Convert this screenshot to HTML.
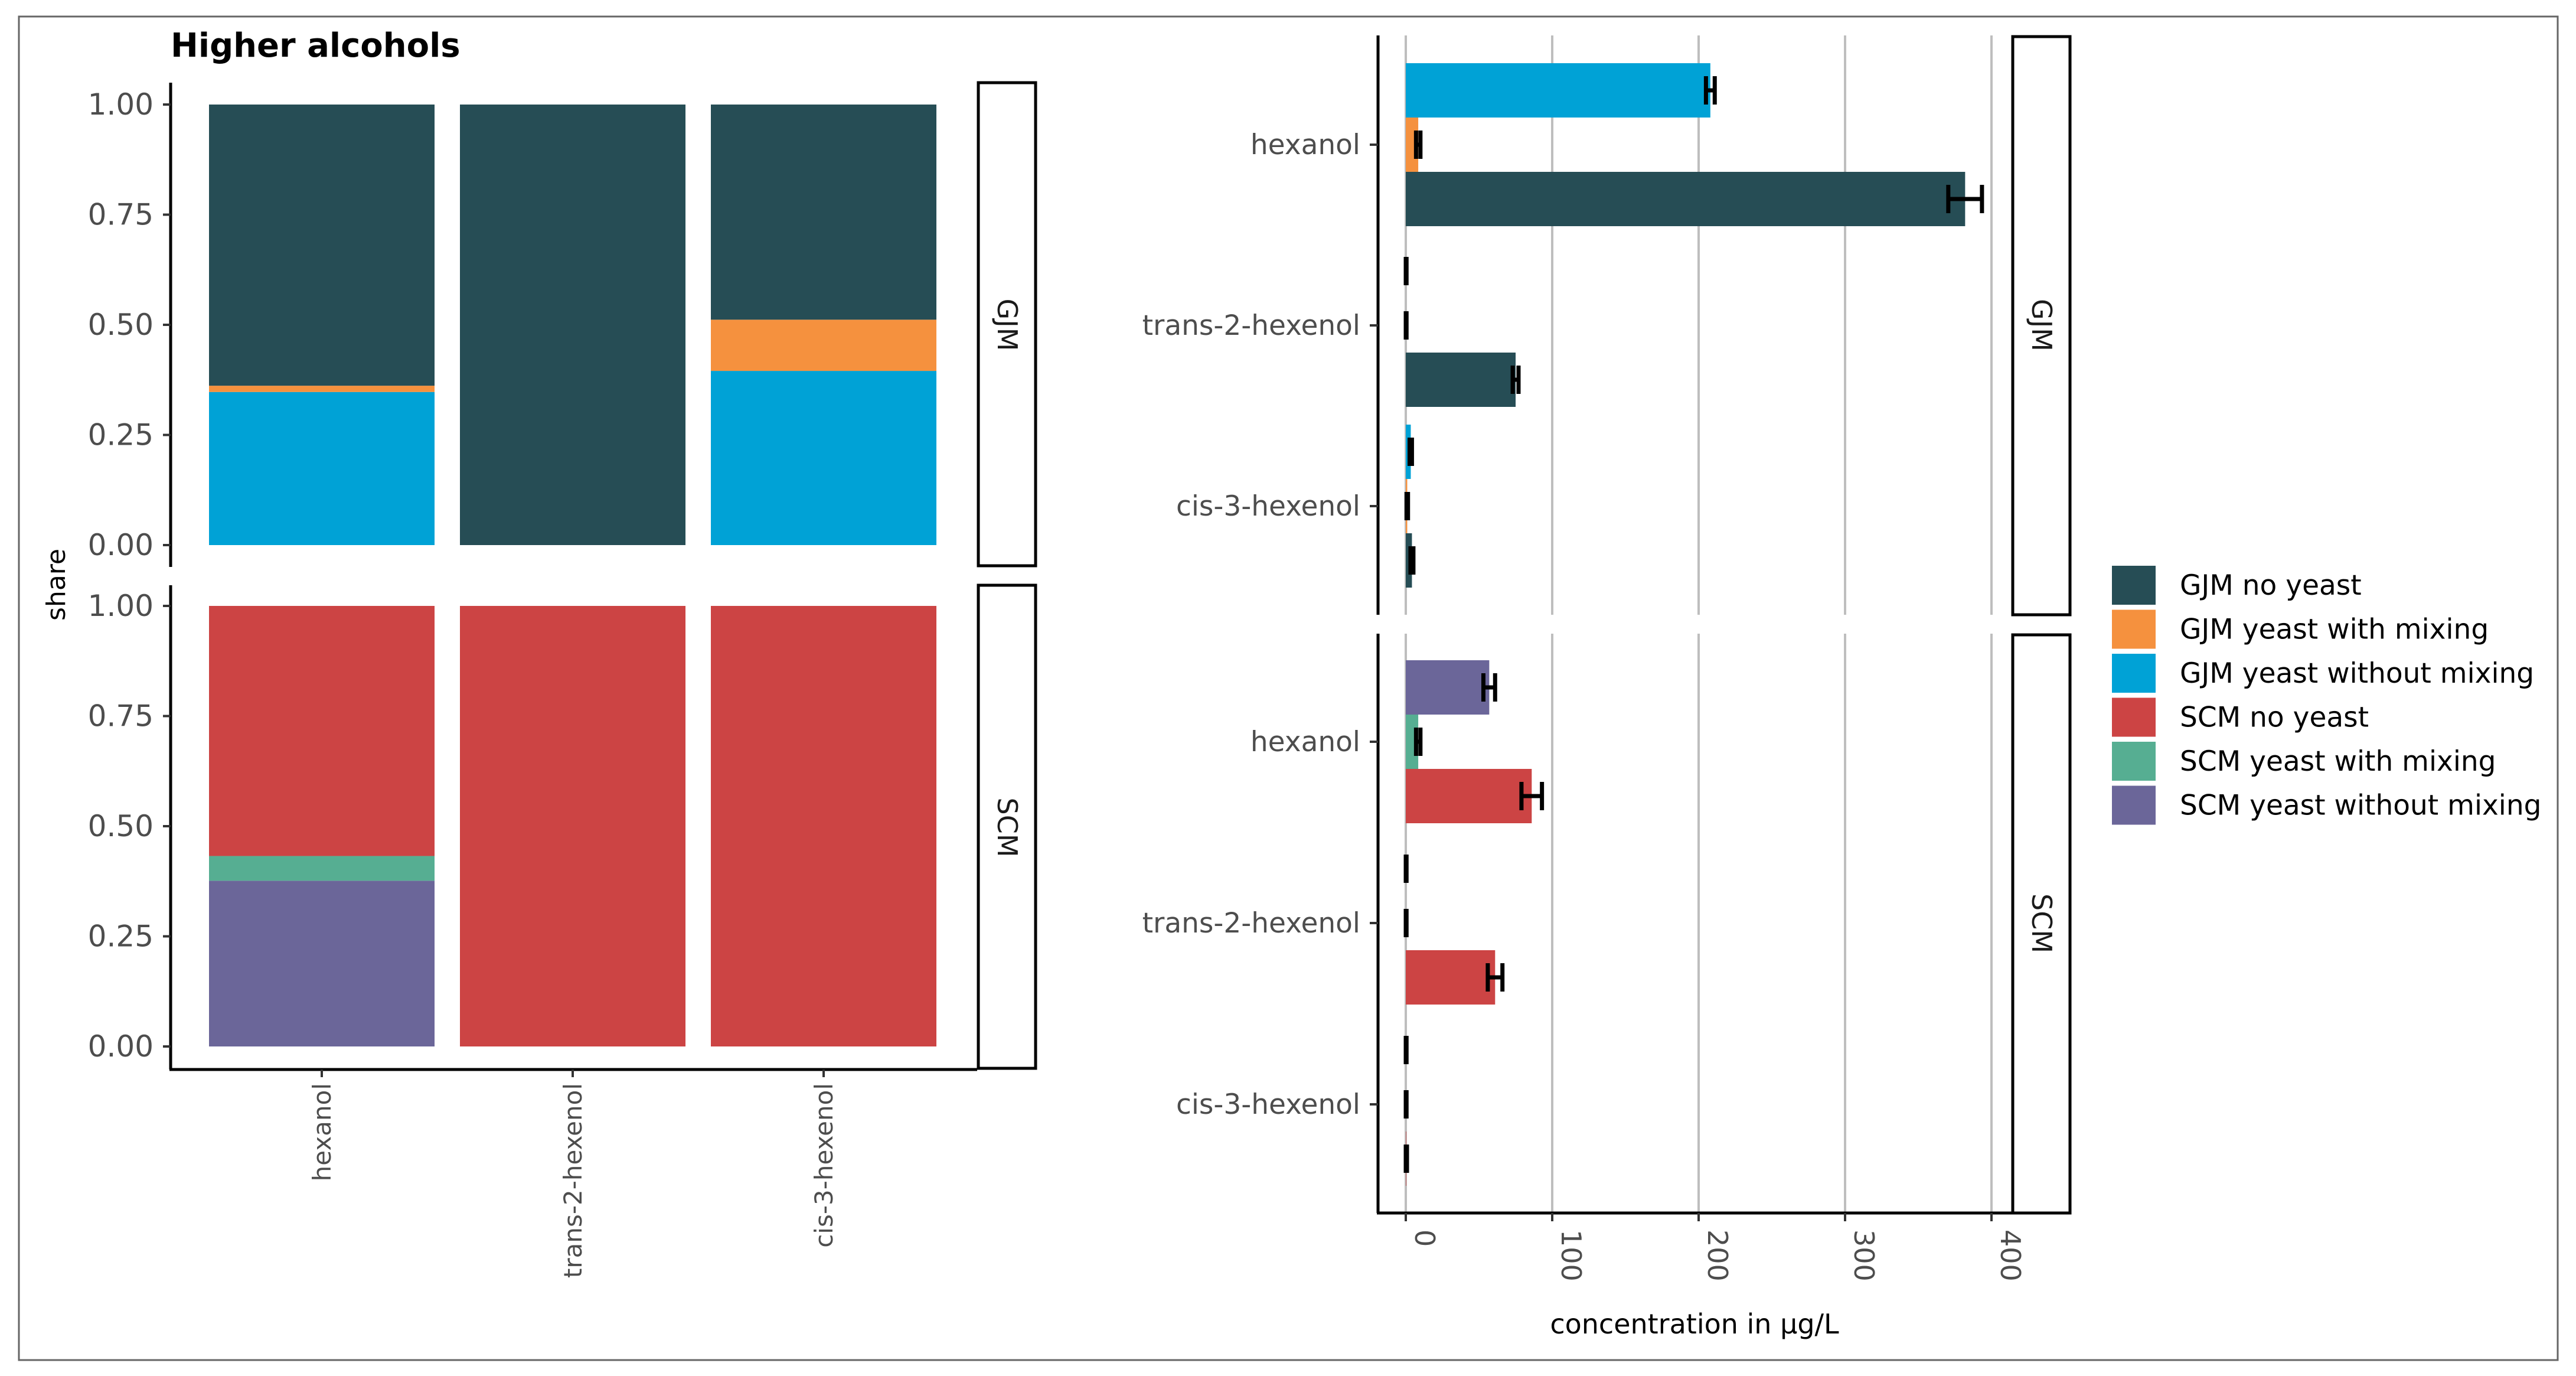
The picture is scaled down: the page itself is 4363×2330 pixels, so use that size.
<!DOCTYPE html>
<html><head><meta charset="utf-8"><style>
html,body{margin:0;padding:0;background:#fff}
svg{display:block}
text{font-family:"DejaVu Sans","Liberation Sans",sans-serif}
</style></head><body>
<svg id="chart" xmlns="http://www.w3.org/2000/svg" width="4363" height="2330" viewBox="0 0 4363 2330">
<rect x="0" y="0" width="4363" height="2330" fill="#fff"/>
<rect x="32" y="28" width="4300" height="2275" fill="none" stroke="#666" stroke-width="3"/>
<text x="289" y="96" font-size="56" font-weight="bold" fill="#000">Higher alcohols</text>
<text transform="translate(110,990) rotate(-90)" text-anchor="middle" font-size="44" fill="#000">share</text>
<text x="2870" y="2258" text-anchor="middle" font-size="46" fill="#000">concentration in µg/L</text>
<g id="g"></g>
</svg>
<script>
const categories = ["hexanol","trans-2-hexenol","cis-3-hexenol"];
const panels = ["GJM","SCM"];
const seriesNames = ["GJM no yeast","GJM yeast with mixing","GJM yeast without mixing","SCM no yeast","SCM yeast with mixing","SCM yeast without mixing"];
const seriesColors = ["#264d55","#f5913e","#00a2d6","#cc4444","#56ae92","#6b6699"];
// concentrations per category [hexanol, trans-2-hexenol, cis-3-hexenol]
const gjmNoYeast = [382, 75, 4.2];
const gjmWithMixing = [8.5, 0, 1.0];
const gjmWithoutMixing = [208, 0, 3.4];
const scmNoYeast = [86, 61, 0.3];
const scmWithMixing = [8.5, 0, 0];
const scmWithoutMixing = [57, 0, 0];
const gjmNoYeastErr = [11.5, 2, 1];
const gjmWithMixingErr = [1.5, 0.5, 0.5];
const gjmWithoutMixingErr = [3, 0.5, 0.8];
const scmNoYeastErr = [7, 5, 0.5];
const scmWithMixingErr = [1.5, 0.5, 0.5];
const scmWithoutMixingErr = [4, 0.5, 0.5];
const shareTicks = [0, 0.25, 0.5, 0.75, 1];
const shareTickLabels = ["0.00","0.25","0.50","0.75","1.00"];
const concTicks = [0, 100, 200, 300, 400];

const NS="http://www.w3.org/2000/svg";
const G=document.getElementById('g');
function mk(tag,attrs,parent){const e=document.createElementNS(NS,tag);for(const k in attrs)e.setAttribute(k,attrs[k]);(parent||G).appendChild(e);return e;}

const panelSeries = [
  {vals:[gjmWithoutMixing,gjmWithMixing,gjmNoYeast],errs:[gjmWithoutMixingErr,gjmWithMixingErr,gjmNoYeastErr],cols:[2,1,0]},
  {vals:[scmWithoutMixing,scmWithMixing,scmNoYeast],errs:[scmWithoutMixingErr,scmWithMixingErr,scmNoYeastErr],cols:[5,4,3]}
];
const leftRows=[{y0:923,y1:177,top:140,bot:960},{y0:1772,y1:1026,top:991,bot:1811}];
function yShare(p,v){const r=leftRows[p];return r.y0+(r.y1-r.y0)*v;}
function xCat(i){return 545+i*425;}
const barW=382;
function xConc(v){return 2381+v*2.48;}
const rightRows=[{c:[245,551,857],top:60,bot:1041},{c:[1256,1563,1870],top:1073,bot:2054}];
const bandH=92;

panels.forEach((pn,p)=>{
  const ps=panelSeries[p];
  const r=leftRows[p];
  let ax=mk('line',{x1:289,x2:289,y1:r.top,y2:r.bot,stroke:'#000','stroke-width':5});
  
  
  shareTicks.forEach((t,k)=>{
    const y=yShare(p,t);
    const tl=mk('line',{x1:276,x2:289,y1:y,y2:y,stroke:'#333','stroke-width':4});
    
    
    const tx=mk('text',{x:260,y:y+17,'text-anchor':'end','font-size':50,fill:'#4d4d4d'});
    tx.textContent=shareTickLabels[k];
    
    
  });
  categories.forEach((c,i)=>{
    const tot=ps.vals.reduce((s,a)=>s+a[i],0);
    let acc=0;
    ps.vals.forEach((arr,s)=>{
      const f=arr[i]/tot;
      if(f<=0) return;
      const ya=yShare(p,acc), yb=yShare(p,acc+f);
      const rc=mk('rect',{x:xCat(i)-barW/2,y:yb,width:barW,height:Math.max(0,ya-yb),fill:seriesColors[ps.cols[s]]});
      
      
      acc+=f;
    });
  });
  const st=mk('rect',{x:1657,y:r.top,width:97,height:r.bot-r.top-2,fill:'#fff',stroke:'#000','stroke-width':5});
  
  
  const stt=mk('text',{transform:`translate(1690,${(r.top+r.bot)/2}) rotate(90)`,'text-anchor':'middle','font-size':46,fill:'#1a1a1a'});
  stt.textContent=pn;
  
  

  const rr=rightRows[p];
  concTicks.forEach(t=>{
    const gl=mk('line',{x1:xConc(t),x2:xConc(t),y1:rr.top,y2:rr.bot,stroke:'#bebebe','stroke-width':4});
    
    
  });
  const rax=mk('line',{x1:2334,x2:2334,y1:rr.top,y2:rr.bot,stroke:'#000','stroke-width':5});
  
  
  categories.forEach((c,i)=>{
    const cy=rr.c[i];
    const tk=mk('line',{x1:2320,x2:2334,y1:cy,y2:cy,stroke:'#333','stroke-width':4});
    
    
    const tl=mk('text',{x:2304,y:cy+16,'text-anchor':'end','font-size':47,fill:'#4d4d4d'});
    tl.textContent=c;
    
    
    ps.vals.forEach((arr,s)=>{
      const yc=cy+(s-1)*bandH;
      const v=arr[i], e=ps.errs[s][i];
      const b=mk('rect',{x:xConc(0),y:yc-bandH/2,width:Math.max(0,xConc(v)-xConc(0)),height:bandH,fill:seriesColors[ps.cols[s]]});
      
      
      const eg=mk('g',{stroke:'#000','stroke-width':7});
      
      
      const xl=xConc(Math.max(0,v-e)), xr=xConc(v+e);
      mk('line',{x1:xl,x2:xr,y1:yc,y2:yc},eg);
      mk('line',{x1:xl,x2:xl,y1:yc-24,y2:yc+24},eg);
      mk('line',{x1:xr,x2:xr,y1:yc-24,y2:yc+24},eg);
    });
  });
  const rs=mk('rect',{x:3409,y:rr.top+2,width:97,height:rr.bot-rr.top-2,fill:'#fff',stroke:'#000','stroke-width':5});
  
  
  const rst=mk('text',{transform:`translate(3442,${(rr.top+rr.bot)/2}) rotate(90)`,'text-anchor':'middle','font-size':46,fill:'#1a1a1a'});
  rst.textContent=pn;
  
  
});
const lx=mk('line',{x1:287,x2:1655,y1:1811,y2:1811,stroke:'#000','stroke-width':5});


categories.forEach((c,i)=>{
  const tk=mk('line',{x1:xCat(i),x2:xCat(i),y1:1811,y2:1824,stroke:'#333','stroke-width':4});
  
  
  const t=mk('text',{transform:`translate(${xCat(i)+15},1834) rotate(-90)`,'text-anchor':'end','font-size':42,fill:'#4d4d4d'});
  t.textContent=c;
  
  
});
const rx=mk('line',{x1:2332,x2:3409,y1:2054,y2:2054,stroke:'#000','stroke-width':5});


concTicks.forEach(t=>{
  const tk=mk('line',{x1:xConc(t),x2:xConc(t),y1:2054,y2:2068,stroke:'#333','stroke-width':4});
  
  
  const tx=mk('text',{transform:`translate(${xConc(t)+16},2082) rotate(90)`,'text-anchor':'start','font-size':46,fill:'#4d4d4d'});
  tx.textContent=String(t);
  
  
});
seriesNames.forEach((n,k)=>{
  const y=958+k*74.5;
  const sw=mk('rect',{x:3577,y:y,width:74,height:66,fill:seriesColors[k]});
  
  
  const tx=mk('text',{x:3692,y:y+49,'font-size':47,fill:'#000'});
  tx.textContent=n;
  
  
});
</script>
</body></html>
